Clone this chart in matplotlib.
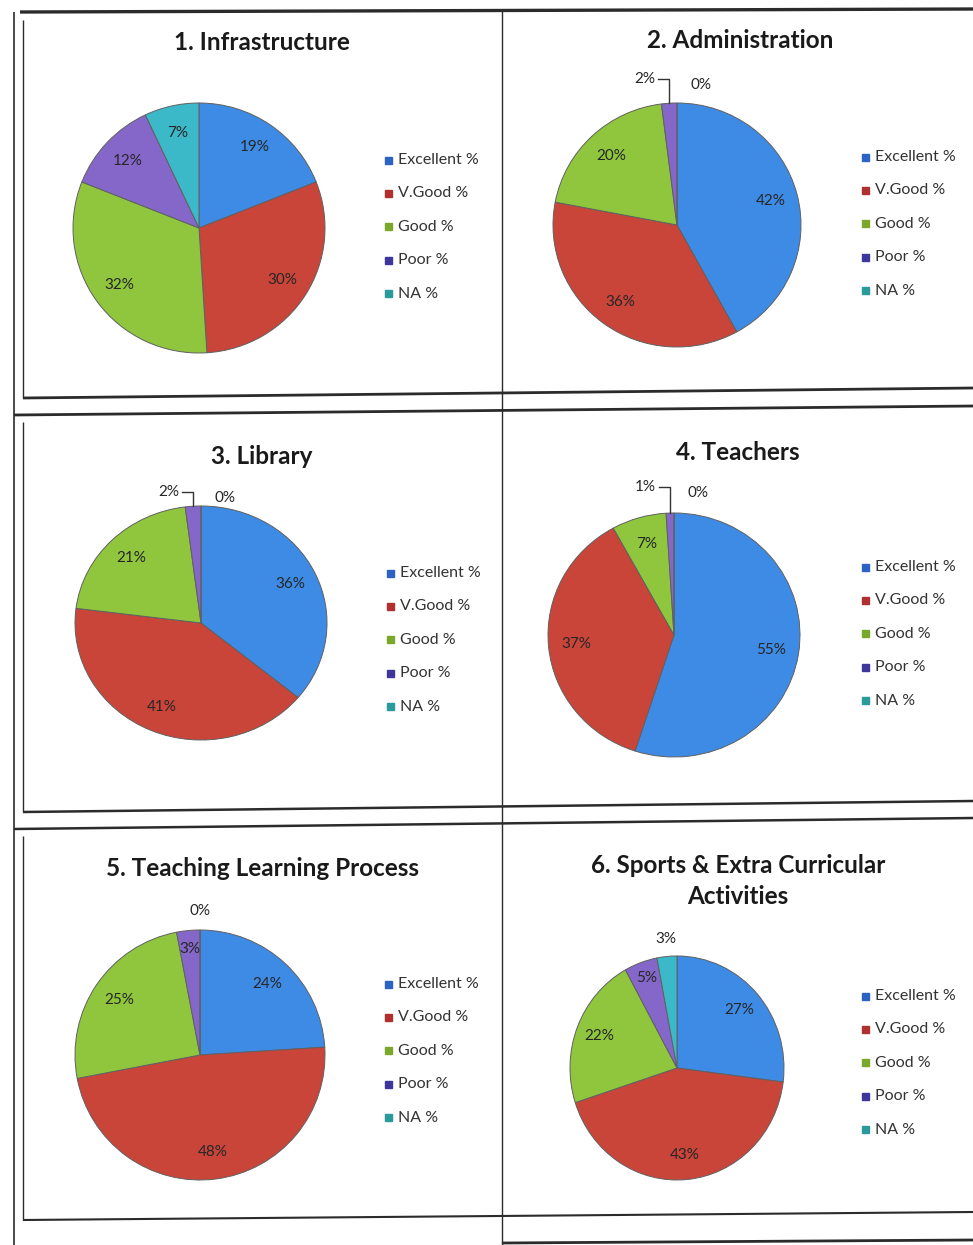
import matplotlib
matplotlib.use('Agg')
import matplotlib.pyplot as plt
import numpy as np

W, H = 973, 1245

categories = ['Excellent %', 'V.Good %', 'Good %', 'Poor %', 'NA %']
titles = ['1. Infrastructure', '2. Administration', '3. Library', '4. Teachers',
          '5. Teaching Learning Process', '6. Sports & Extra Curricular\nActivities']
infrastructure = [19, 30, 32, 12, 7]
administration = [42, 36, 20, 2, 0]
library = [36, 41, 21, 2, 0]
teachers = [55, 37, 7, 1, 0]
teaching_learning = [24, 48, 25, 3, 0]
sports = [27, 43, 22, 5, 3]
series = [infrastructure, administration, library, teachers, teaching_learning, sports]

wedge_colors = ['#3d8be5', '#c9453a', '#8fc63e', '#8567c9', '#3bb9c9']
legend_colors = ['#2b62c4', '#b03030', '#79a82a', '#3e3699', '#2a9a9c']

# layout: pie centre/radii (px), title centre, legend origin, leader height (px)
layout = [
    dict(c=(199, 228), r=(126, 125), t=(262, 42), lg=(385, 160), mode='in'),
    dict(c=(677, 225), r=(124, 122), t=(740, 40), lg=(862, 157), mode='leader', lh=24),
    dict(c=(201, 623), r=(126, 117), t=(262, 457), lg=(387, 573), mode='leader', lh=14),
    dict(c=(674, 635), r=(126, 122), t=(738, 452), lg=(862, 567), mode='leader', lh=26),
    dict(c=(200, 1055), r=(125, 125), t=(262, 868), lg=(385, 984), mode='top'),
    dict(c=(677, 1068), r=(107, 112), t=(738, 881), lg=(862, 996), mode='top'),
]

FONT = 'Lato'
fig = plt.figure(figsize=(W / 100, H / 100), dpi=100)
fig.patch.set_facecolor('white')

# background axes in pixel coordinates for frame lines and texts
bg = fig.add_axes([0, 0, 1, 1])
bg.set_xlim(0, W)
bg.set_ylim(H, 0)
bg.axis('off')

lc = '#2b2b2b'
def seg(x0, y0, x1, y1, lw=1.3):
    bg.plot([x0, x1], [y0, y1], color=lc, lw=lw, solid_capstyle='butt')

seg(20, 12, 973, 9, 2.4)
seg(14, 12, 14, H, 1.2)
seg(502, 10, 502, H, 1.0)
seg(23, 20, 23, 398, 1.0)
seg(23, 422, 23, 812, 1.0)
seg(23, 836, 23, 1220, 1.0)
seg(23, 398, 973, 388, 2.0)
seg(14, 415, 973, 406, 2.0)
seg(23, 812, 973, 801, 1.8)
seg(14, 829, 973, 818, 1.8)
seg(23, 1220, 973, 1212, 1.5)
seg(502, 1243, 973, 1240, 2.0)

for vals, lay, title in zip(series, layout, titles):
    cx, cy = lay['c']
    rx, ry = lay['r']
    ax = fig.add_axes([(cx - rx) / W, 1 - (cy + ry) / H, 2 * rx / W, 2 * ry / H])
    wedges, _ = ax.pie(vals, colors=wedge_colors, startangle=90, counterclock=False,
                       radius=1.0, wedgeprops=dict(edgecolor='#606060', linewidth=0.7))
    ax.set_aspect('auto')
    ax.set_xlim(-1, 1)
    ax.set_ylim(-1, 1)
    ax.axis('off')

    total = float(sum(vals))
    ang = 90.0
    for i, v in enumerate(vals):
        span = 360.0 * v / total
        mid = np.deg2rad(ang - span / 2)
        ang -= span
        txt = f'{v}%'
        kw = dict(fontsize=11, family=FONT, color='#262626', va='center', clip_on=False)
        c, s = np.cos(mid), np.sin(mid)
        if lay['mode'] == 'leader' and v <= 2:
            ytop = 1 + lay['lh'] / ry
            if v == 0:
                ax.text(0.11, ytop - 0.05, txt, ha='left', **kw)
            else:
                ax.plot([c, c, c - 0.09], [s, ytop, ytop], color='#333333', lw=1.0, clip_on=False)
                ax.text(c - 0.11, ytop, txt, ha='right', **kw)
        elif lay['mode'] == 'top' and i == 4:
            ax.text(c * 1.12, 1.15, txt, ha='center', **kw)
        else:
            rr = 0.85 if v <= 5 else 0.78
            ax.text(c * rr, s * rr, txt, ha='center', **kw)

    tx, ty = lay['t']
    bg.text(tx, ty, title, fontsize=17.5, family=FONT, fontweight='bold', color='#1a1a1a',
            ha='center', va='center', linespacing=1.45)

    lx, ly = lay['lg']
    for j, (name, col) in enumerate(zip(categories, legend_colors)):
        yy = ly + j * 33.4
        bg.add_patch(plt.Rectangle((lx, yy - 3.5), 7, 7, color=col))
        bg.text(lx + 13, yy, name, fontsize=11.5, family=FONT, color='#333333',
                ha='left', va='center')

fig.savefig('out.png', dpi=100, facecolor='white')
